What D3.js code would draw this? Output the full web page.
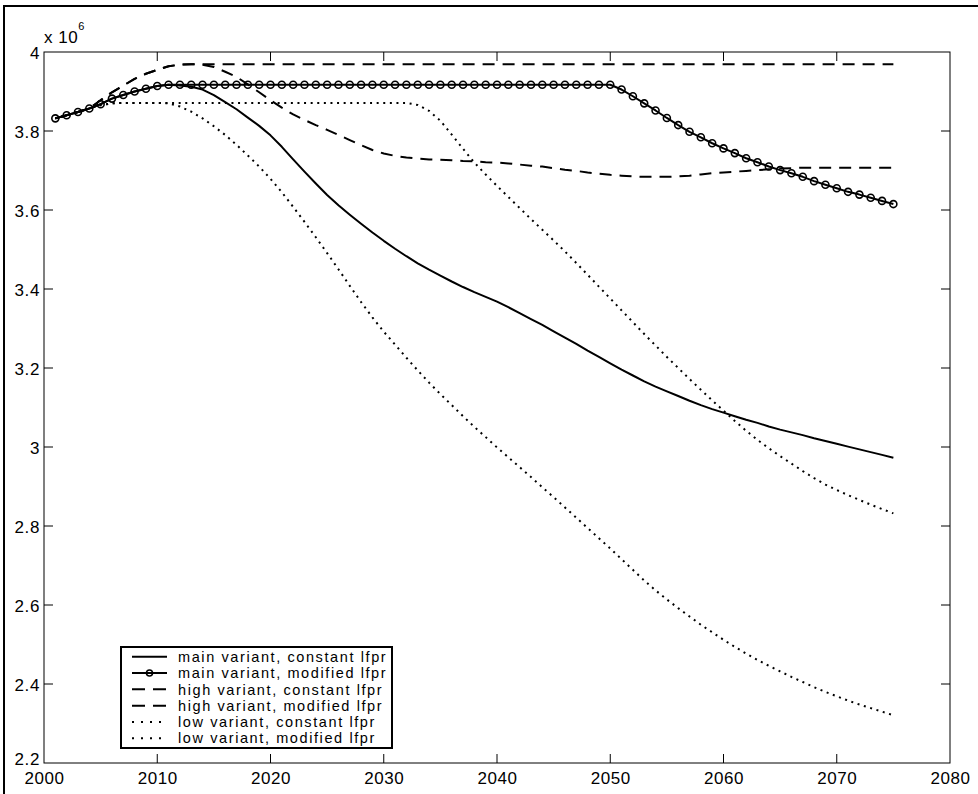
<!DOCTYPE html>
<html><head><meta charset="utf-8">
<script src="https://cdn.jsdelivr.net/npm/d3@7"></script>
<style>body{margin:0;background:#fff}svg{display:block}text{font-family:"Liberation Sans",Arial,sans-serif;fill:#000}</style>
</head><body>
<svg id="c" width="978" height="794"></svg>
<script>
// Years 2001..2075
const years = [2001,2002,2003,2004,2005,2006,2007,2008,2009,2010,2011,2012,2013,2014,2015,2016,2017,2018,2019,2020,
2021,2022,2023,2024,2025,2026,2027,2028,2029,2030,2031,2032,2033,2034,2035,2036,2037,2038,2039,2040,
2041,2042,2043,2044,2045,2046,2047,2048,2049,2050,2051,2052,2053,2054,2055,2056,2057,2058,2059,2060,
2061,2062,2063,2064,2065,2066,2067,2068,2069,2070,2071,2072,2073,2074,2075];
// values in millions
const mainConstant = [3.832,3.840,3.848,3.857,3.868,3.882,3.891,3.900,3.907,3.914,3.917,3.915,3.912,3.905,3.891,3.873,3.855,3.834,3.813,3.789,
3.760,3.728,3.697,3.667,3.638,3.612,3.588,3.565,3.543,3.522,3.502,3.483,3.465,3.449,3.434,3.419,3.405,3.392,3.380,3.368,
3.354,3.339,3.324,3.309,3.293,3.277,3.261,3.244,3.228,3.212,3.196,3.181,3.166,3.153,3.141,3.129,3.117,3.106,3.096,3.087,
3.078,3.069,3.061,3.052,3.044,3.037,3.030,3.022,3.015,3.008,3.001,2.994,2.987,2.980,2.973];
const mainModified = [3.832,3.840,3.848,3.857,3.868,3.882,3.891,3.900,3.907,3.914,3.917,3.917,3.917,3.917,3.917,3.917,3.917,3.917,3.917,3.917,
3.917,3.917,3.917,3.917,3.917,3.917,3.917,3.917,3.917,3.917,3.917,3.917,3.917,3.917,3.917,3.917,3.917,3.917,3.917,3.917,
3.917,3.917,3.917,3.917,3.917,3.917,3.917,3.917,3.917,3.917,3.905,3.888,3.870,3.852,3.833,3.815,3.798,3.784,3.769,3.756,
3.744,3.731,3.721,3.710,3.701,3.693,3.684,3.673,3.664,3.655,3.646,3.639,3.631,3.623,3.615];
const highConstant = [3.832,3.840,3.848,3.857,3.878,3.898,3.915,3.932,3.945,3.955,3.964,3.968,3.969,3.968,3.962,3.950,3.937,3.918,3.898,3.878,
3.859,3.842,3.828,3.815,3.803,3.790,3.777,3.764,3.752,3.743,3.737,3.733,3.730,3.728,3.727,3.726,3.724,3.723,3.721,3.720,
3.718,3.715,3.712,3.710,3.706,3.702,3.699,3.695,3.692,3.689,3.687,3.685,3.684,3.684,3.684,3.685,3.687,3.690,3.693,3.695,
3.697,3.699,3.701,3.703,3.705,3.706,3.707,3.707,3.707,3.707,3.707,3.707,3.707,3.707,3.707];
const highModified = [3.832,3.840,3.848,3.857,3.878,3.898,3.915,3.932,3.945,3.955,3.964,3.968,3.969,3.969,3.969,3.969,3.969,3.969,3.969,3.969,
3.969,3.969,3.969,3.969,3.969,3.969,3.969,3.969,3.969,3.969,3.969,3.969,3.969,3.969,3.969,3.969,3.969,3.969,3.969,3.969,
3.969,3.969,3.969,3.969,3.969,3.969,3.969,3.969,3.969,3.969,3.969,3.969,3.969,3.969,3.969,3.969,3.969,3.969,3.969,3.969,
3.969,3.969,3.969,3.969,3.969,3.969,3.969,3.969,3.969,3.969,3.969,3.969,3.969,3.969,3.969];
const lowConstant = [3.832,3.840,3.848,3.857,3.866,3.870,3.871,3.871,3.871,3.871,3.870,3.862,3.849,3.832,3.812,3.790,3.765,3.738,3.710,3.679,
3.645,3.608,3.570,3.531,3.491,3.450,3.408,3.367,3.328,3.292,3.259,3.226,3.194,3.163,3.134,3.106,3.078,3.051,3.025,2.999,
2.974,2.949,2.924,2.898,2.873,2.847,2.821,2.795,2.769,2.743,2.716,2.689,2.662,2.637,2.614,2.592,2.571,2.550,2.531,2.512,
2.494,2.477,2.461,2.446,2.432,2.418,2.405,2.392,2.380,2.369,2.358,2.348,2.339,2.330,2.321];
const lowModified = [3.832,3.840,3.848,3.857,3.866,3.870,3.871,3.871,3.871,3.871,3.871,3.871,3.871,3.871,3.871,3.871,3.871,3.871,3.871,3.871,
3.871,3.871,3.871,3.871,3.871,3.871,3.871,3.871,3.871,3.871,3.871,3.871,3.866,3.851,3.826,3.791,3.755,3.720,3.690,3.661,
3.633,3.605,3.577,3.550,3.523,3.495,3.466,3.436,3.406,3.376,3.346,3.316,3.286,3.257,3.228,3.200,3.172,3.145,3.118,3.092,
3.066,3.041,3.018,2.997,2.977,2.958,2.939,2.921,2.905,2.891,2.878,2.866,2.854,2.843,2.832];

const seriesNames = ["main variant, constant lfpr","main variant, modified lfpr","high variant, constant lfpr",
  "high variant, modified lfpr","low variant, constant lfpr","low variant, modified lfpr"];
const seriesValues = [mainConstant, mainModified, highConstant, highModified, lowConstant, lowModified];
const xTicks = [2000,2010,2020,2030,2040,2050,2060,2070,2080];
const yTicks = [2.2,2.4,2.6,2.8,3,3.2,3.4,3.6,3.8,4];

const styles = [
  {dash:null, legendDash:null, marker:false},
  {dash:null, legendDash:null, marker:true},
  {dash:"12 8", legendDash:"13 8", marker:false},
  {dash:"12 8", legendDash:"13 8", marker:false},
  {dash:"2 4.6", legendDash:"2 7", marker:false},
  {dash:"2 4.6", legendDash:"2 7", marker:false}
];

const FONT = "'Liberation Sans',Arial,sans-serif";
const svg = d3.select("#c");
const L=44, R=950, T=52, B=763;
const x = d3.scaleLinear().domain([2000,2080]).range([L,R]);
const y = d3.scaleLinear().domain([2.2,4]).range([B,T]);

// outer frame
svg.append("path").attr("d","M4,800V6H990").attr("fill","none").attr("stroke","#000").attr("stroke-width",2);

// plot box
svg.append("rect").attr("x",L).attr("y",T).attr("width",R-L).attr("height",B-T)
  .attr("fill","#fff").attr("stroke","#000").attr("stroke-width",1);

const tl=9;
const ax = svg.append("g");
const xAxisB = d3.axisBottom(x).tickValues(xTicks).tickSize(0).tickPadding(9).tickFormat(d3.format("d"));
const gx = svg.append("g").attr("transform",`translate(0,${B})`).call(xAxisB);
gx.select(".domain").remove();
gx.selectAll("text").attr("font-size",17).attr("letter-spacing",0.6).attr("font-family",FONT);
const yAxisL = d3.axisLeft(y).tickValues(yTicks).tickSize(0).tickPadding(4).tickFormat(d=>d3.format("")(+d.toFixed(1)));
const gy = svg.append("g").attr("transform",`translate(${L},0)`).call(yAxisL);
gy.select(".domain").remove();
gy.selectAll("text").attr("font-size",17).attr("letter-spacing",0.6).attr("dy","0.4em").attr("font-family",FONT);
gy.selectAll(".tick").filter(d=>d===2.2).select("text").attr("dy","0.1em");
// inside ticks
xTicks.forEach(t=>{
  if(t===2000||t===2080) return;
  ax.append("line").attr("x1",x(t)).attr("x2",x(t)).attr("y1",B).attr("y2",B-tl).attr("stroke","#000");
  ax.append("line").attr("x1",x(t)).attr("x2",x(t)).attr("y1",T).attr("y2",T+tl).attr("stroke","#000");
});
yTicks.forEach(t=>{
  if(t===2.2||t===4) return;
  ax.append("line").attr("x1",L).attr("x2",L+tl).attr("y1",y(t)).attr("y2",y(t)).attr("stroke","#000");
  ax.append("line").attr("x1",R).attr("x2",R-tl).attr("y1",y(t)).attr("y2",y(t)).attr("stroke","#000");
});

// exponent label
const ex = svg.append("text").attr("x",44).attr("y",43).attr("font-size",17).attr("letter-spacing",0.5);
ex.append("tspan").text("x 10");
ex.append("tspan").attr("dy",-13).attr("font-size",11).text("6");

// lines
const line = d3.line().x((d,i)=>x(years[i])).y(d=>y(d));
seriesValues.forEach((vals,k)=>{
  const st=styles[k];
  svg.append("path").datum(vals).attr("d",line).attr("fill","none").attr("stroke","#000")
    .attr("stroke-width",2).attr("stroke-dasharray",st.dash).attr("stroke-linejoin","round");
  if(st.marker){
    svg.append("g").selectAll("circle").data(vals).join("circle")
      .attr("cx",(d,i)=>x(years[i])).attr("cy",d=>y(d)).attr("r",3.5)
      .attr("fill","none").attr("stroke","#000").attr("stroke-width",1.6);
  }
});

// legend
const lgX=121, lgY=647, lgW=271, lgH=101, rowH=16.3;
const lg = svg.append("g");
lg.append("rect").attr("x",lgX).attr("y",lgY).attr("width",lgW).attr("height",lgH)
  .attr("fill","#fff").attr("stroke","#000").attr("stroke-width",2);
seriesNames.forEach((n,k)=>{
  const cy = lgY+lgH/2+(k-2.5)*rowH;
  const st=styles[k];
  lg.append("line").attr("x1",132).attr("x2",167).attr("y1",cy).attr("y2",cy)
    .attr("stroke","#000").attr("stroke-width",2).attr("stroke-dasharray",st.legendDash);
  if(st.marker) lg.append("circle").attr("cx",149.5).attr("cy",cy).attr("r",3).attr("fill","none").attr("stroke","#000").attr("stroke-width",1.6);
  lg.append("text").attr("x",178).attr("y",cy).attr("dy","0.36em").attr("font-size",14.5).attr("letter-spacing",1.6).text(n);
});
</script>
</body></html>
